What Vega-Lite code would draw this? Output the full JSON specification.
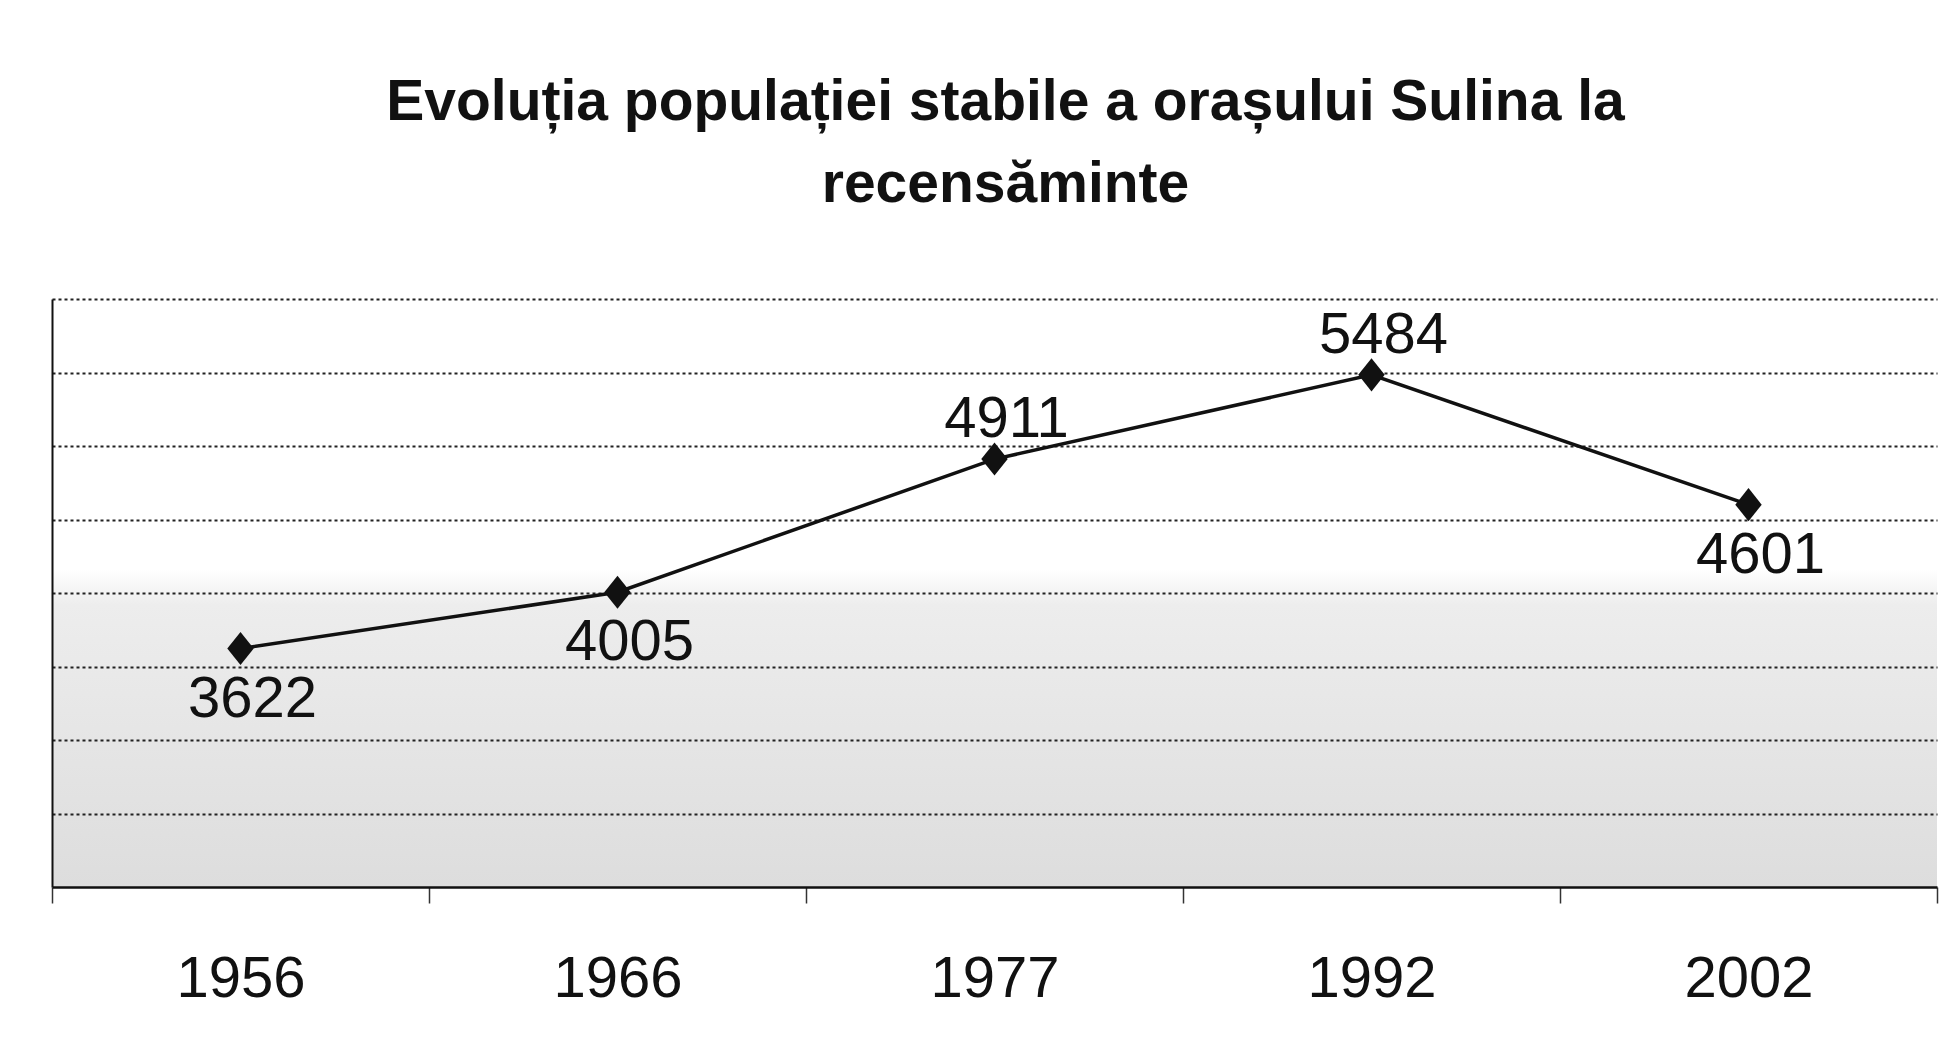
{
  "$schema": "https://vega.github.io/schema/vega-lite/v6.json",
  "width": 1885,
  "height": 588,
  "autosize": "none",
  "padding": {"left": 52, "top": 299, "right": 16, "bottom": 168},
  "background": "white",
  "config": {
    "view": {
      "stroke": null,
      "fill": {
        "gradient": "linear",
        "x1": 0, "y1": 0, "x2": 0, "y2": 1,
        "stops": [
          {"offset": 0, "color": "#ffffff"},
          {"offset": 0.46, "color": "#ffffff"},
          {"offset": 0.52, "color": "#ededed"},
          {"offset": 1, "color": "#dddddd"}
        ]
      }
    }
  },
  "title": {
    "text": ["Evoluția populației stabile a orașului Sulina la", "recensăminte"],
    "font": "'Liberation Sans', Arial, sans-serif",
    "fontSize": 57,
    "fontWeight": "bold",
    "color": "#111111",
    "anchor": "middle",
    "baseline": "bottom",
    "lineHeight": 82,
    "offset": 28,
    "dx": 11
  },
  "data": {
    "values": [
      {"year": "1956", "pop": 3622},
      {"year": "1966", "pop": 4005},
      {"year": "1977", "pop": 4911},
      {"year": "1992", "pop": 5484},
      {"year": "2002", "pop": 4601}
    ]
  },
  "encoding": {
    "x": {
      "field": "year",
      "type": "ordinal",
      "sort": null,
      "scale": {"type": "band", "paddingInner": 0, "paddingOuter": 0},
      "axis": {
        "title": null,
        "labelAngle": 0,
        "labelFont": "'Liberation Sans', Arial, sans-serif",
        "labelFontSize": 58,
        "labelColor": "#111111",
        "labelPadding": 47,
        "domainColor": "#111111",
        "domainWidth": 2.5,
        "tickBand": "extent",
        "tickColor": "#333333",
        "tickSize": 16,
        "tickWidth": 1.5,
        "grid": false
      }
    },
    "y": {
      "field": "pop",
      "type": "quantitative",
      "scale": {"domain": [2000, 6000], "nice": false},
      "axis": {
        "title": null,
        "labels": false,
        "ticks": false,
        "domain": true,
        "domainColor": "#111111",
        "domainWidth": 2,
        "values": [2500, 3000, 3500, 4000, 4500, 5000, 5500, 6000],
        "grid": true,
        "gridColor": "#222222",
        "gridDash": [3, 3],
        "gridWidth": 2
      }
    }
  },
  "layer": [
    {
      "mark": {"type": "line", "color": "#111111", "strokeWidth": 3.5}
    },
    {
      "mark": {
        "type": "point",
        "shape": "M-1,0L0,-1.25L1,0L0,1.25Z",
        "size": 700,
        "filled": true,
        "color": "#111111",
        "opacity": 1
      }
    },
    {
      "transform": [{"filter": "datum.year == '1977' || datum.year == '1992'"}],
      "mark": {
        "type": "text",
        "font": "'Liberation Sans', Arial, sans-serif",
        "fontSize": 58,
        "color": "#111111",
        "baseline": "alphabetic",
        "dx": 12,
        "dy": -22
      },
      "encoding": {"text": {"field": "pop", "type": "quantitative", "format": "d"}}
    },
    {
      "transform": [{"filter": "datum.year == '1956' || datum.year == '1966' || datum.year == '2002'"}],
      "mark": {
        "type": "text",
        "font": "'Liberation Sans', Arial, sans-serif",
        "fontSize": 58,
        "color": "#111111",
        "baseline": "alphabetic",
        "dx": 12,
        "dy": 68
      },
      "encoding": {"text": {"field": "pop", "type": "quantitative", "format": "d"}}
    }
  ]
}
